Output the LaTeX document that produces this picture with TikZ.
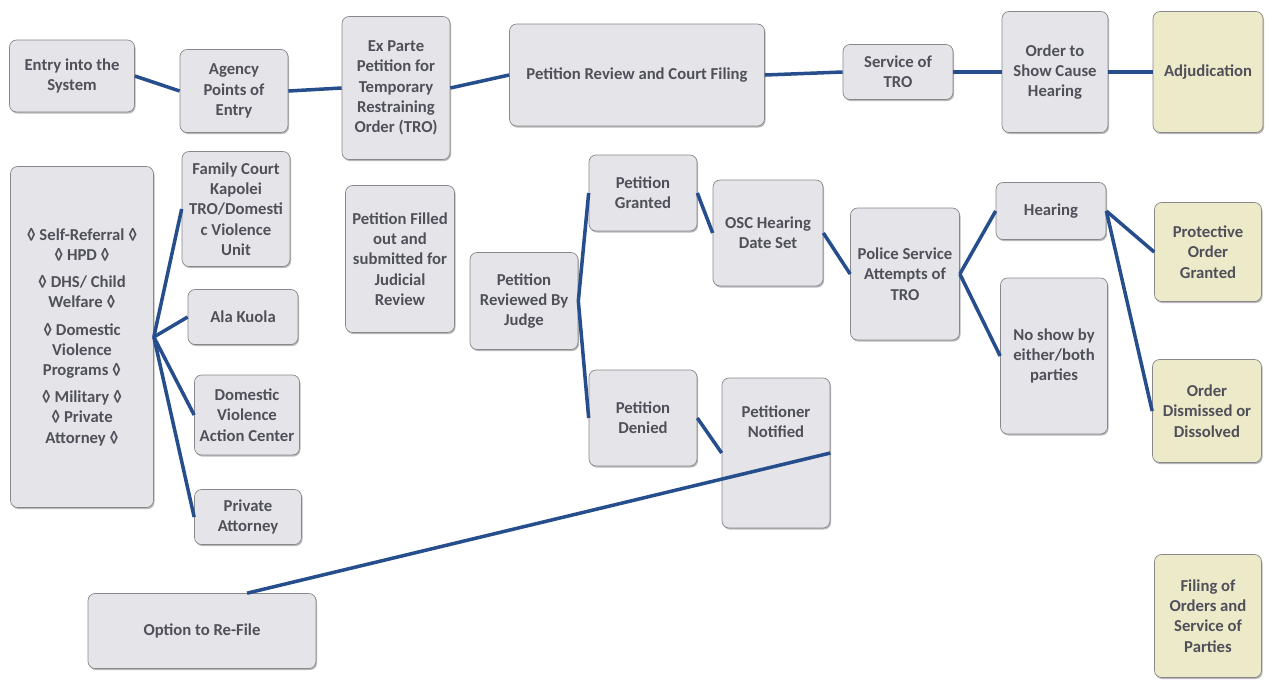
\documentclass[tikz,border=0pt]{standalone}
\usepackage{fontspec}
\setmainfont{Carlito}
\usetikzlibrary{shadows}
\definecolor{boxgrey}{RGB}{229,229,233}
\definecolor{boxedge}{RGB}{135,135,140}
\definecolor{boxyellow}{RGB}{237,234,202}
\definecolor{linkblue}{RGB}{38,78,140}
\definecolor{textgrey}{RGB}{80,80,90}
\tikzset{
    flow-box/.style = {draw=boxedge, fill=boxgrey, thin, rectangle, rounded corners=4pt, align=center, inner sep=2pt, text=textgrey, font=\bfseries\fontsize{9.5}{11.5}\selectfont, drop shadow={shadow xshift=0.6pt, shadow yshift=-0.9pt, opacity=0.55, fill=gray}},
    result-box/.style = {flow-box, fill=boxyellow},
    flow-link/.style = {draw=linkblue, line width=2pt},
}

\begin{document}
\begin{tikzpicture}[x=0.02cm, y=-0.02cm]
\useasboundingbox (0,0) rectangle (1265,681);

\node[flow-box, minimum width=2.5cm, minimum height=1.44cm] (entry) at (72,76) {Entry into the\\System};
\node[flow-box, minimum width=2.16cm, minimum height=1.66cm] (agency) at (234,91) {Agency\\Points of\\Entry};
\node[flow-box, minimum width=2.16cm, minimum height=2.86cm] (exparte) at (396,88) {Ex Parte\\Petition for\\Temporary\\Restraining\\Order (TRO)};
\node[flow-box, minimum width=5.1cm, minimum height=2.04cm] (review) at (637,75) {Petition Review and Court Filing};
\node[flow-box, minimum width=2.2cm, minimum height=1.1cm] (service) at (898,72) {Service of\\TRO};
\node[flow-box, minimum width=2.12cm, minimum height=2.42cm] (osc) at (1055,72) {Order to\\Show Cause\\Hearing};
\node[result-box, minimum width=2.2cm, minimum height=2.42cm] (adjud) at (1208,72) {Adjudication};

\node[flow-box, minimum width=2.86cm, minimum height=6.82cm] (sources) at (82,337) {◊ Self-Referral ◊\\◊ HPD ◊\\[4pt]◊ DHS/ Child\\Welfare ◊\\[4pt]◊ Domestic\\Violence\\Programs ◊\\[4pt]◊ Military ◊\\◊ Private\\Attorney ◊};
\node[flow-box, minimum width=2.16cm, minimum height=2.3cm] (family) at (236,209) {Family Court\\Kapolei\\TRO/Domesti\\c Violence\\Unit};
\node[flow-box, minimum width=2.2cm, minimum height=1.1cm] (alakuola) at (243,317) {Ala Kuola};
\node[flow-box, minimum width=2.1cm, minimum height=1.6cm] (dvac) at (247,415) {Domestic\\Violence\\Action Center};
\node[flow-box, minimum width=2.14cm, minimum height=1.1cm] (privatty) at (248,517) {Private\\Attorney};

\node[flow-box, minimum width=2.18cm, minimum height=2.94cm] (filled) at (400,259) {Petition Filled\\out and\\submitted for\\Judicial\\Review};
\node[flow-box, minimum width=2.16cm, minimum height=1.94cm] (judge) at (524,301) {Petition\\Reviewed By\\Judge};
\node[flow-box, minimum width=2.16cm, minimum height=1.52cm] (granted) at (643,193) {Petition\\Granted};
\node[flow-box, minimum width=2.2cm, minimum height=2.12cm] (oscdate) at (768,233) {OSC Hearing\\Date Set};
\node[flow-box, minimum width=2.16cm, minimum height=1.92cm] (denied) at (643,418) {Petition\\Denied};
\node[flow-box, minimum width=2.16cm, minimum height=3cm, text depth=1.25cm] (notif) at (776,453) {Petitioner\\Notified};
\node[flow-box, minimum width=2.18cm, minimum height=2.64cm] (police) at (905,274) {Police Service\\Attempts of\\TRO};
\node[flow-box, minimum width=2.2cm, minimum height=1.14cm] (hearing) at (1051,211) {Hearing};
\node[flow-box, minimum width=2.14cm, minimum height=3.12cm] (noshow) at (1054,356) {No show by\\either/both\\parties};
\node[result-box, minimum width=2.14cm, minimum height=1.98cm] (protect) at (1208,252) {Protective\\Order\\Granted};
\node[result-box, minimum width=2.18cm, minimum height=2.06cm] (dismiss) at (1207,411) {Order\\Dismissed or\\Dissolved};
\node[result-box, minimum width=2.14cm, minimum height=2.46cm] (filing) at (1208,616) {Filing of\\Orders and\\Service of\\Parties};
\node[flow-box, minimum width=4.56cm, minimum height=1.5cm] (refile) at (202,631) {Option to Re-File};

\draw[flow-link] (entry.east) -- (agency.west);
\draw[flow-link] (agency.east) -- (exparte.west);
\draw[flow-link] (exparte.east) -- (review.west);
\draw[flow-link] (review.east) -- (service.west);
\draw[flow-link] (service.east) -- (osc.west);
\draw[flow-link] (osc.east) -- (adjud.west);
\foreach \dest in {family, alakuola, dvac, privatty}
    \draw[flow-link] (sources.east) -- (\dest.west);
\draw[flow-link] (judge.east) -- (granted.west);
\draw[flow-link] (judge.east) -- (denied.west);
\draw[flow-link] (granted.east) -- (oscdate.west);
\draw[flow-link] (denied.east) -- (notif.west);
\draw[flow-link] (oscdate.east) -- (police.west);
\draw[flow-link] (police.east) -- (hearing.west);
\draw[flow-link] (police.east) -- (noshow.west);
\draw[flow-link] (hearing.east) -- (protect.west);
\draw[flow-link] (hearing.east) -- (dismiss.west);
\draw[flow-link] (refile.40) -- (notif.east);
\end{tikzpicture}
\end{document}
